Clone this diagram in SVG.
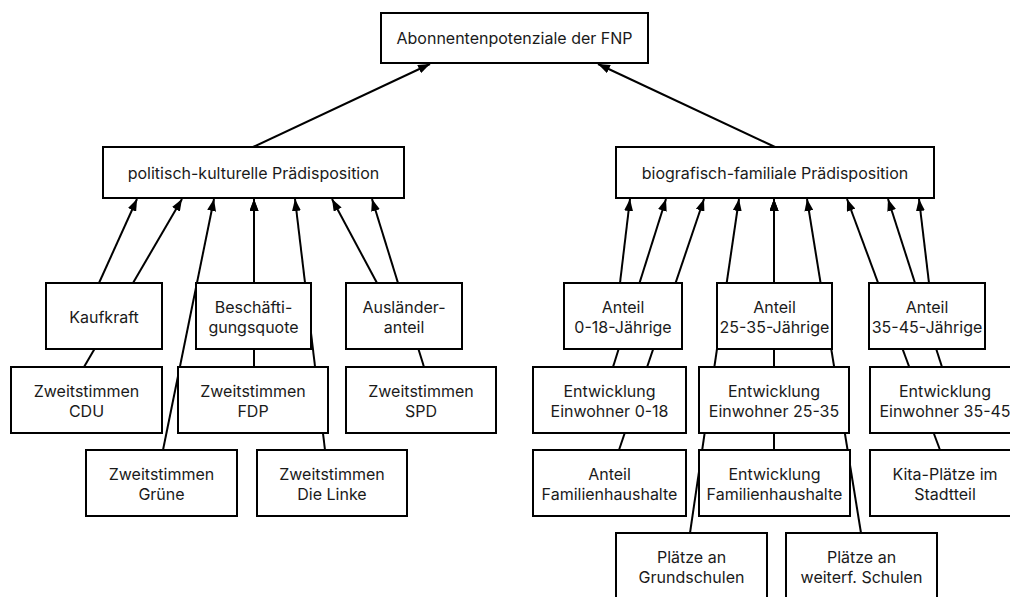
<svg xmlns="http://www.w3.org/2000/svg" width="1010" height="597" viewBox="0 0 1010 597">
<defs>
<style>
.n rect{fill:#fff;stroke:#000;stroke-width:2}
.n text{font-family:Inter,"Noto Sans",sans-serif;font-size:16px;fill:#1a1a1a;text-anchor:middle}
.e line{stroke:#000;stroke-width:2;marker-end:url(#ah)}
</style>
<marker id="ah" markerUnits="userSpaceOnUse" markerWidth="13" markerHeight="9" refX="12" refY="4.5" orient="auto"><path d="M0,0 L12,4.5 L0,9 z" fill="#000"/></marker>
</defs>
<rect width="1010" height="597" fill="#fff"/>
<g id="edges" class="e">
<line x1="253" y1="147" x2="430" y2="64"/>
<line x1="775" y1="147" x2="598" y2="64"/>
<line x1="99" y1="283" x2="137" y2="199"/>
<line x1="84" y1="367" x2="182" y2="199"/>
<line x1="163" y1="450" x2="214" y2="199"/>
<line x1="254" y1="283" x2="254" y2="199"/>
<line x1="254" y1="367" x2="254" y2="199"/>
<line x1="325" y1="450" x2="295" y2="199"/>
<line x1="377" y1="283" x2="332" y2="199"/>
<line x1="424" y1="367" x2="372" y2="199"/>
<line x1="620" y1="283" x2="630" y2="199"/>
<line x1="613" y1="367" x2="666" y2="199"/>
<line x1="619" y1="450" x2="704" y2="199"/>
<line x1="690" y1="533" x2="739" y2="199"/>
<line x1="774" y1="283" x2="774" y2="199"/>
<line x1="774" y1="367" x2="774" y2="199"/>
<line x1="774" y1="450" x2="774" y2="199"/>
<line x1="861" y1="533" x2="807" y2="199"/>
<line x1="940" y1="450" x2="847" y2="199"/>
<line x1="942" y1="367" x2="888" y2="199"/>
<line x1="929" y1="283" x2="919" y2="199"/>
</g>
<g id="n_top" class="n"><rect x="381" y="13" width="267" height="50"/><text x="514.5" y="44">Abonnentenpotenziale der FNP</text></g>
<g id="n_pol" class="n"><rect x="103" y="147" width="301" height="51"/><text x="253.5" y="179">politisch-kulturelle Prädisposition</text></g>
<g id="n_bio" class="n"><rect x="616" y="147" width="318" height="51"/><text x="775" y="179">biografisch-familiale Prädisposition</text></g>
<g id="n_kauf" class="n"><rect x="46" y="283" width="116" height="66"/><text x="104" y="323">Kaufkraft</text></g>
<g id="n_besch" class="n"><rect x="196" y="283" width="115" height="66"/><text x="253.5" y="313">Beschäfti-</text><text x="253.5" y="333">gungsquote</text></g>
<g id="n_ausl" class="n"><rect x="346" y="283" width="116" height="66"/><text x="404" y="313">Ausländer-</text><text x="404" y="333">anteil</text></g>
<g id="n_cdu" class="n"><rect x="11" y="367" width="151" height="66"/><text x="86.5" y="397">Zweitstimmen</text><text x="86.5" y="417">CDU</text></g>
<g id="n_fdp" class="n"><rect x="178" y="367" width="150" height="66"/><text x="253" y="397">Zweitstimmen</text><text x="253" y="417">FDP</text></g>
<g id="n_spd" class="n"><rect x="346" y="367" width="150" height="66"/><text x="421" y="397">Zweitstimmen</text><text x="421" y="417">SPD</text></g>
<g id="n_gruene" class="n"><rect x="86" y="450" width="151" height="66"/><text x="161.5" y="480">Zweitstimmen</text><text x="161.5" y="500">Grüne</text></g>
<g id="n_linke" class="n"><rect x="257" y="450" width="150" height="66"/><text x="332" y="480">Zweitstimmen</text><text x="332" y="500">Die Linke</text></g>
<g id="n_a018" class="n"><rect x="564" y="283" width="118" height="66"/><text x="623" y="313">Anteil</text><text x="623" y="333">0-18-Jährige</text></g>
<g id="n_a2535" class="n"><rect x="717" y="283" width="115" height="66"/><text x="774.5" y="313">Anteil</text><text x="774.5" y="333">25-35-Jährige</text></g>
<g id="n_a3545" class="n"><rect x="869" y="283" width="116" height="66"/><text x="927" y="313">Anteil</text><text x="927" y="333">35-45-Jährige</text></g>
<g id="n_e018" class="n"><rect x="533" y="367" width="153" height="66"/><text x="609.5" y="397">Entwicklung</text><text x="609.5" y="417">Einwohner 0-18</text></g>
<g id="n_e2535" class="n"><rect x="699" y="367" width="150" height="66"/><text x="774" y="397">Entwicklung</text><text x="774" y="417">Einwohner 25-35</text></g>
<g id="n_e3545" class="n"><rect x="870" y="367" width="150" height="66"/><text x="945" y="397">Entwicklung</text><text x="945" y="417">Einwohner 35-45</text></g>
<g id="n_afh" class="n"><rect x="533" y="450" width="153" height="66"/><text x="609.5" y="480">Anteil</text><text x="609.5" y="500">Familienhaushalte</text></g>
<g id="n_efh" class="n"><rect x="699" y="450" width="151" height="66"/><text x="774.5" y="480">Entwicklung</text><text x="774.5" y="500">Familienhaushalte</text></g>
<g id="n_kita" class="n"><rect x="870" y="450" width="150" height="66"/><text x="945" y="480">Kita-Plätze im</text><text x="945" y="500">Stadtteil</text></g>
<g id="n_grund" class="n"><rect x="616" y="533" width="151" height="66"/><text x="691.5" y="563">Plätze an</text><text x="691.5" y="583">Grundschulen</text></g>
<g id="n_weit" class="n"><rect x="786" y="533" width="151" height="66"/><text x="861.5" y="563">Plätze an</text><text x="861.5" y="583">weiterf. Schulen</text></g>
</svg>
